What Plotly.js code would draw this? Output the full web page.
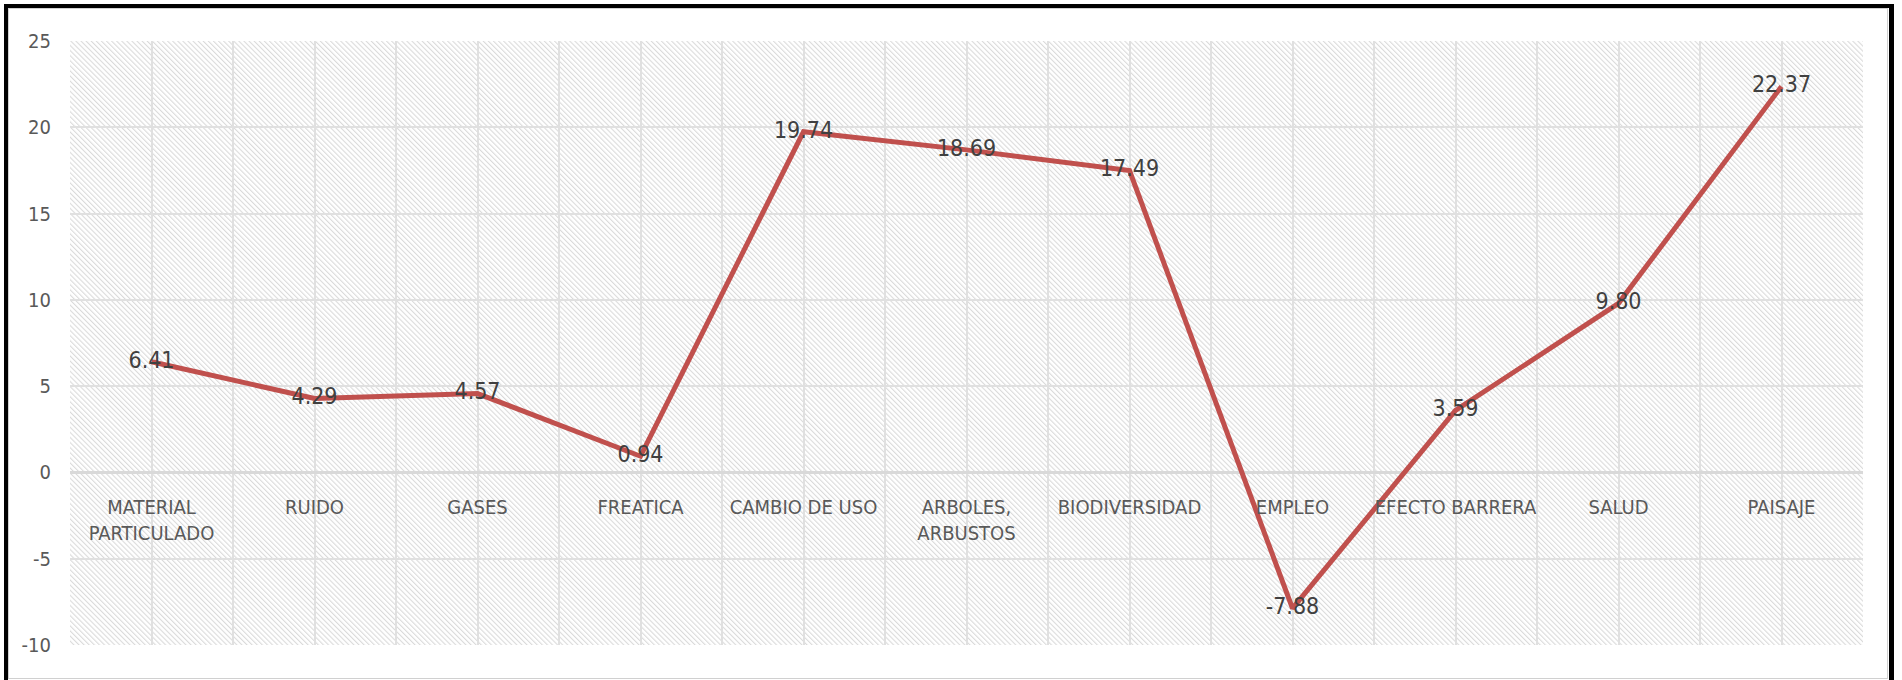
<!DOCTYPE html>
<html>
<head>
<meta charset="utf-8">
<script src="https://cdn.plot.ly/plotly-3.0.1.min.js"></script>
<style>
  html, body { margin: 0; padding: 0; background: #fff; }
  #wrap { position: relative; width: 1902px; height: 680px; overflow: hidden; }
  #chart { position: absolute; left: 0; top: 0; width: 1902px; height: 680px; }
  #frame { position: absolute; left: 4px; top: 4px; width: 1881px; height: 700px;
           border-left: 4px solid #000; border-top: 4px solid #000; border-right: 5px solid #000; pointer-events: none; }
  #inner { position: absolute; left: 8px; top: 8px; width: 1878px; height: 669px;
           border: 1px solid #d0d0d0; pointer-events: none; }
</style>
</head>
<body>
<div id="wrap">
  <div id="chart"></div>
  <div id="inner"></div>
  <div id="frame"></div>
</div>
<script>
const categories = ["MATERIAL<br>PARTICULADO", "RUIDO", "GASES", "FREATICA", "CAMBIO DE USO",
  "ARBOLES,<br>ARBUSTOS", "BIODIVERSIDAD", "EMPLEO", "EFECTO BARRERA", "SALUD", "PAISAJE"];
const values = [6.41, 4.29, 4.57, 0.94, 19.74, 18.69, 17.49, -7.88, 3.59, 9.80, 22.37];
const yTicks = [-10, -5, 0, 5, 10, 15, 20, 25];
const yTickText = ["-10", "-5", "0", "5", "10", "15", "20", "25"];

const yMin = -10, yMax = 25;
const xIdx = categories.map((c, i) => i);

const FONT = "'Liberation Sans Narrow', 'DejaVu Sans Condensed', 'Liberation Sans', sans-serif";

const W = 1902, H = 680;
const margin = { l: 70, r: 39, t: 41, b: 35, pad: 0 };
const pw = W - margin.l - margin.r, ph = H - margin.t - margin.b;

const svg = `<svg xmlns="http://www.w3.org/2000/svg" width="${pw}" height="${ph}" viewBox="0 0 ${pw} ${ph}" preserveAspectRatio="none">
<defs><pattern id="p" width="3.6" height="3.6" patternUnits="userSpaceOnUse" patternTransform="rotate(-45)">
<rect x="0" y="0" width="1.1" height="3.6" fill="#dadada"/></pattern></defs>
<rect width="${pw}" height="${ph}" fill="#ffffff"/>
<rect width="${pw}" height="${ph}" fill="url(#p)"/></svg>`;
const hatch = "data:image/svg+xml;charset=utf-8," + encodeURIComponent(svg);

const trace = {
  type: "scatter",
  mode: "lines+text",
  x: xIdx,
  y: values,
  text: values.map(v => v.toFixed(2)),
  textposition: "middle center",
  textfont: { family: FONT, size: 23, color: "#404040" },
  line: { color: "#C0504D", width: 5 },
  hoverinfo: "x+y",
  cliponaxis: false
};

const layout = {
  width: W, height: H,
  margin: margin,
  paper_bgcolor: "rgba(0,0,0,0)",
  plot_bgcolor: "rgba(0,0,0,0)",
  showlegend: false,
  images: [{
    source: hatch, xref: "paper", yref: "paper", x: 0, y: 1, sizex: 1, sizey: 1,
    xanchor: "left", yanchor: "top", sizing: "stretch", layer: "below"
  }],
  xaxis: {
    type: "linear",
    range: [-0.5, categories.length - 0.5],
    tickvals: xIdx,
    ticktext: categories,
    tickfont: { family: FONT, size: 20, color: "#595959" },
    showgrid: true, gridcolor: "#e0e0e0", gridwidth: 2,
    minor: { tick0: -0.5, dtick: 1, showgrid: true, gridcolor: "#e0e0e0", gridwidth: 2, ticks: "" },
    zeroline: false, showline: false,
    ticks: "outside", ticklen: 17, tickcolor: "rgba(0,0,0,0)",
    anchor: "free",
    position: (0 - yMin) / (yMax - yMin),
    fixedrange: true
  },
  yaxis: {
    range: [yMin, yMax],
    tickvals: yTicks,
    ticktext: yTickText,
    tickfont: { family: FONT, size: 20, color: "#595959" },
    showgrid: true, gridcolor: "#e0e0e0", gridwidth: 2,
    zeroline: true, zerolinecolor: "#d9d9d9", zerolinewidth: 3,
    showline: false,
    ticks: "", ticklabelstandoff: 18,
    fixedrange: true
  }
};

Plotly.newPlot("chart", [trace], layout, { displayModeBar: false, staticPlot: true });
</script>
</body>
</html>
